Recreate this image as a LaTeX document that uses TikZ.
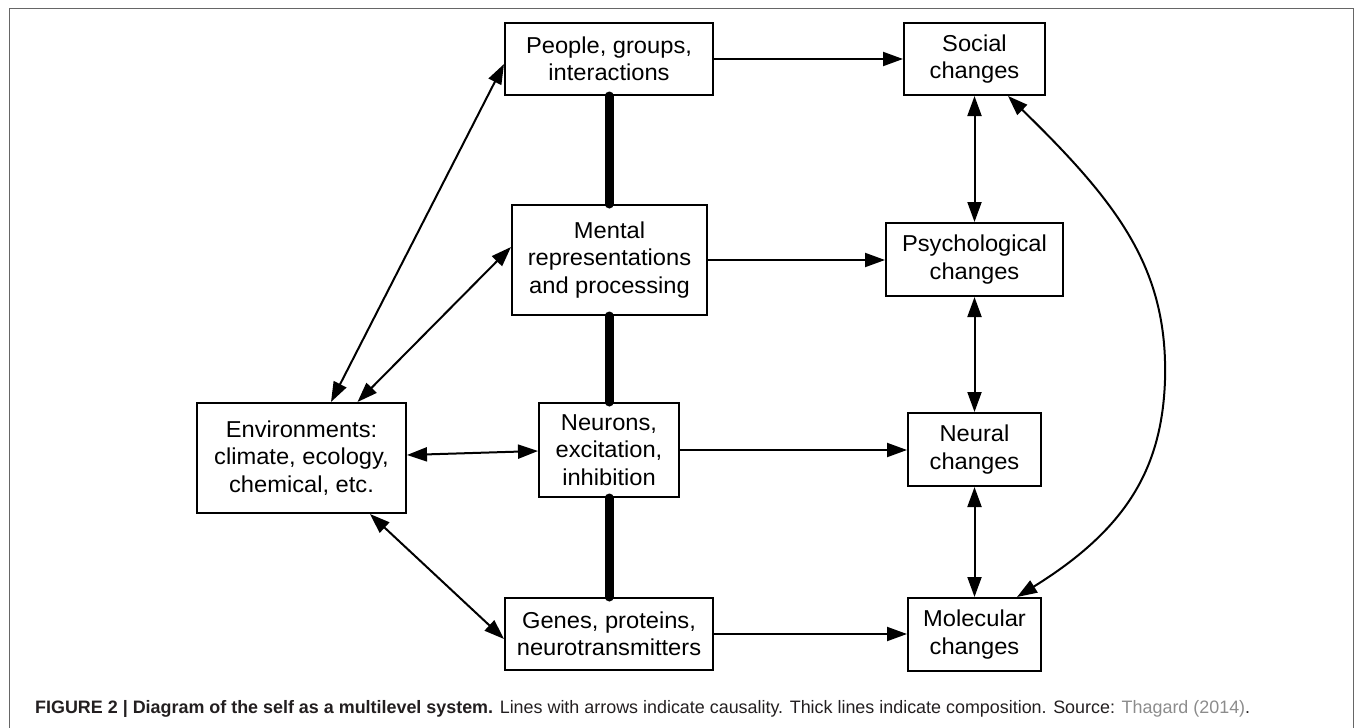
\documentclass[tikz,border=0pt]{standalone}
\usepackage{fontspec}
\setmainfont{Liberation Sans}
\newfontfamily\boxfont{Liberation Sans}[FakeStretch=1.03]
\usetikzlibrary{arrows.meta}
\definecolor{captext}{HTML}{231F20}
\definecolor{capgray}{HTML}{8C8C8C}
\definecolor{framegray}{HTML}{666666}
\tikzset{
  box/.style={draw=black, line width=2pt, fill=white, inner sep=0pt, align=center,
    font=\boxfont\fontsize{23}{27.5}\selectfont},
  causal/.style={line width=2pt, draw=black},
  compose/.style={line width=9pt, draw=black, line cap=round},
  >={Triangle[length=20pt,width=14pt]}
}
\begin{document}
\begin{tikzpicture}[x=1pt, y=-1pt]
\useasboundingbox (0,0) rectangle (1355,728);
% frame
\draw[framegray, line width=1pt] (9,728) -- (9,8) -- (1353,8) -- (1353,728);

% nodes
\node[box, minimum width=208pt, minimum height=72pt] (people) at (609,59) {People, groups,\\interactions};
\node[box, minimum width=141pt, minimum height=72pt] (social) at (974.5,59) {Social\\changes};
\node[box, minimum width=195pt, minimum height=110pt] (mental) at (609.5,260) {Mental\\representations\\and processing};
\node[box, minimum width=177pt, minimum height=73pt] (psych) at (974.5,259.5) {Psychological\\changes};
\node[box, minimum width=209pt, minimum height=110pt] (env) at (301.5,458) {Environments:\\climate, ecology,\\chemical, etc.};
\node[box, minimum width=140pt, minimum height=94pt] (neurons) at (609,450) {Neurons,\\excitation,\\inhibition};
\node[box, minimum width=133pt, minimum height=73pt] (neural) at (974.5,449.5) {Neural\\changes};
\node[box, minimum width=208pt, minimum height=72pt] (genes) at (609,634) {Genes, proteins,\\neurotransmitters};
\node[box, minimum width=133pt, minimum height=73pt] (molecular) at (974.5,634.5) {Molecular\\changes};

% thick composition lines
\draw[compose] (people.south) -- (people.south |- mental.north);
\draw[compose] (mental.south -| neurons.north) -- (neurons.north);
\draw[compose] (neurons.south) -- (neurons.south |- genes.north);

% causal arrows
\draw[causal, ->] (people.east) -- (social.west);
\draw[causal, ->] (mental.east) -- (mental.east -| psych.west);
\draw[causal, ->] (neurons.east) -- (neurons.east -| neural.west);
\draw[causal, ->] (genes.east) -- (genes.east -| molecular.west);

\draw[causal, <->] (social.south) -- (psych.north);
\draw[causal, <->] (psych.south) -- (neural.north);
\draw[causal, <->] (neural.south) -- (molecular.north);

\draw[causal, <->] ([xshift=29.5pt]env.north) -- ([yshift=-5pt]people.west);
\draw[causal, <->] ([xshift=56pt]env.north) -- ([yshift=13pt]mental.west);
\draw[causal, <->] ([yshift=3pt]env.east) -- ([yshift=-1pt]neurons.west);
\draw[causal, <->] ([xshift=68.5pt]env.south) -- ([yshift=-5pt]genes.west);

\draw[causal, <->] ([xshift=33.5pt]social.south)
  .. controls (1120,205) and (1168,270) .. (1165,380)
  .. controls (1162,470) and (1125,530) .. ([xshift=42.5pt]molecular.north);

% caption
\node[anchor=base west, inner sep=0pt] (cap) at (35,713) {\resizebox{1215pt}{\height}{\fontsize{18}{21}\selectfont\color{captext}\textbf{FIGURE 2 | Diagram of the self as a multilevel system.} Lines with arrows indicate causality. Thick lines indicate composition. Source: \textcolor{capgray}{Thagard (2014)}.}};
\end{tikzpicture}
\end{document}
